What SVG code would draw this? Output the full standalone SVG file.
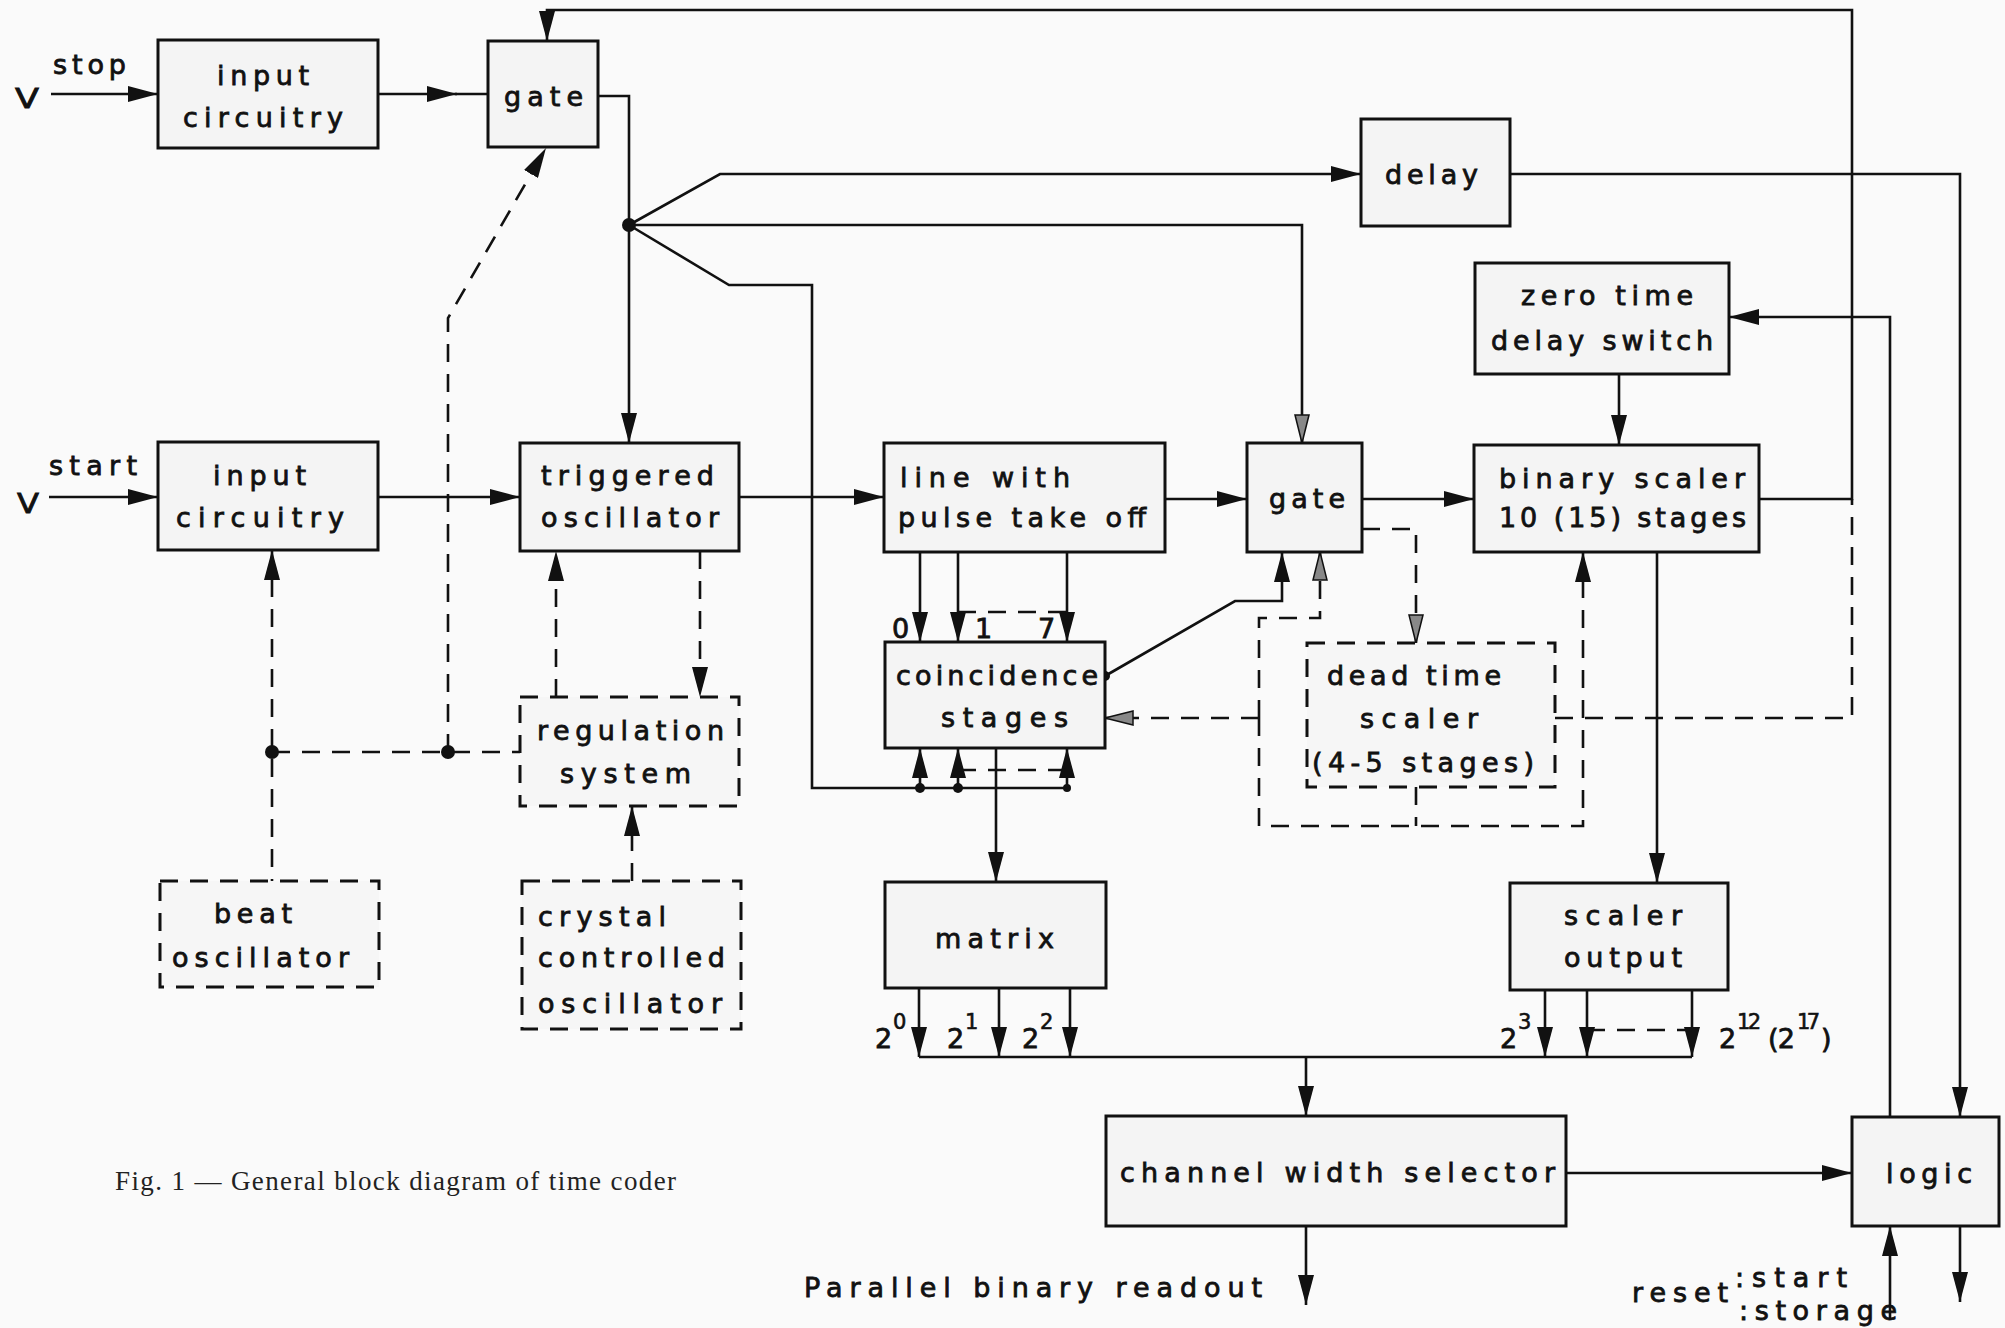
<svg xmlns="http://www.w3.org/2000/svg" width="2005" height="1328" viewBox="0 0 2005 1328">
<style>
.box{fill:#f4f4f4;stroke:#111;stroke-width:3}
.dbox{fill:#f6f6f6;stroke:#111;stroke-width:3;stroke-dasharray:18 12}
.ln{fill:none;stroke:#111;stroke-width:2.6}
.dl{fill:none;stroke:#111;stroke-width:2.6;stroke-dasharray:18 12}
.t{font-family:"DejaVu Sans","Liberation Sans",sans-serif;font-size:27px;fill:#111;stroke:#111;stroke-width:0.8}
.sup{font-family:"DejaVu Sans","Liberation Sans",sans-serif;font-size:21px;fill:#111;stroke:#111;stroke-width:0.6}
.cap{font-family:"Liberation Serif","Times New Roman",serif;font-size:27px;fill:#222}
</style>
<defs>
<marker id="a" markerUnits="userSpaceOnUse" markerWidth="30" markerHeight="16" refX="30" refY="8" orient="auto"><path d="M0,0 L30,8 L0,16 z" fill="#111"/></marker>
<marker id="h" markerUnits="userSpaceOnUse" markerWidth="30" markerHeight="16" refX="29" refY="8" orient="auto"><path d="M1,1 L29,8 L1,15 z" fill="#888" stroke="#111" stroke-width="1.5"/></marker>
</defs>
<rect x="0" y="0" width="2005" height="1328" fill="#fafafa"/>

<g id="connectors">
<path class="ln" d="M51,94 H158" marker-end="url(#a)"/>
<path class="ln" d="M378,94 H457" marker-end="url(#a)"/>
<path class="ln" d="M455,94 H488"/>
<path class="ln" d="M598,96 H629 V443" marker-end="url(#a)"/>
<path class="ln" d="M1759,499 H1852 V10 H547 V41" marker-end="url(#a)"/>
<path class="ln" d="M629,225 L720,174 H1361" marker-end="url(#a)"/>
<path class="ln" d="M629,225 H1302 V443" marker-end="url(#h)"/>
<path class="ln" d="M629,225 L729,285 H812 V788 H1067"/>
<path class="ln" d="M920,788 V748" marker-end="url(#a)"/>
<path class="ln" d="M958,788 V748" marker-end="url(#a)"/>
<path class="ln" d="M1067,788 V748" marker-end="url(#a)"/>
<path class="dl" d="M958,770 H1067"/>
<path class="ln" d="M49,497 H158" marker-end="url(#a)"/>
<path class="ln" d="M378,497 H520" marker-end="url(#a)"/>
<path class="ln" d="M739,497 H884" marker-end="url(#a)"/>
<path class="ln" d="M1165,499 H1247" marker-end="url(#a)"/>
<path class="ln" d="M1362,499 H1474" marker-end="url(#a)"/>
<path class="ln" d="M920,552 V642" marker-end="url(#a)"/>
<path class="ln" d="M958,552 V642" marker-end="url(#a)"/>
<path class="ln" d="M1067,552 V642" marker-end="url(#a)"/>
<path class="dl" d="M958,612 H1067"/>
<path class="ln" d="M996,748 V882" marker-end="url(#a)"/>
<path class="ln" d="M1105,676 L1235,601 H1282 V552" marker-end="url(#a)"/>
<path class="dl" d="M1259,718 V618 H1320 V552" marker-end="url(#h)"/>
<path class="dl" d="M1259,718 V826 H1583 V552" marker-end="url(#a)"/>
<path class="dl" d="M1416,787 V826"/>
<path class="dl" d="M1259,718 H1105" marker-end="url(#h)"/>
<path class="dl" d="M1362,529 H1416 V643" marker-end="url(#h)"/>
<path class="dl" d="M1555,718 H1852 V499"/>
<path class="ln" d="M1619,374 V445" marker-end="url(#a)"/>
<path class="ln" d="M1890,1117 V317 H1729" marker-end="url(#a)"/>
<path class="ln" d="M1510,174 H1960 V1117" marker-end="url(#a)"/>
<path class="ln" d="M1657,552 V883" marker-end="url(#a)"/>
<path class="ln" d="M919,988 V1057" marker-end="url(#a)"/>
<path class="ln" d="M999,988 V1057" marker-end="url(#a)"/>
<path class="ln" d="M1070,988 V1057" marker-end="url(#a)"/>
<path class="ln" d="M1545,990 V1057" marker-end="url(#a)"/>
<path class="ln" d="M1587,990 V1057" marker-end="url(#a)"/>
<path class="ln" d="M1692,990 V1057" marker-end="url(#a)"/>
<path class="dl" d="M1587,1030 H1692"/>
<path class="ln" d="M919,1057 H1692"/>
<path class="ln" d="M1306,1057 V1116" marker-end="url(#a)"/>
<path class="ln" d="M1566,1173 H1852" marker-end="url(#a)"/>
<path class="ln" d="M1306,1226 V1305" marker-end="url(#a)"/>
<path class="ln" d="M1890,1318 V1226" marker-end="url(#a)"/>
<path class="ln" d="M1960,1226 V1302" marker-end="url(#a)"/>
<path class="dl" d="M272,987 V550" marker-end="url(#a)"/>
<path class="dl" d="M272,752 H520"/>
<path class="dl" d="M448,752 V318 L546,148" marker-end="url(#a)"/>
<path class="dl" d="M556,697 V551" marker-end="url(#a)"/>
<path class="dl" d="M700,551 V697" marker-end="url(#a)"/>
<path class="dl" d="M632,881 V806" marker-end="url(#a)"/>
<g fill="#111">
<circle cx="629" cy="225" r="7"/>
<circle cx="1105" cy="676" r="5"/>
<circle cx="920" cy="788" r="5"/>
<circle cx="958" cy="788" r="5"/>
<circle cx="1067" cy="788" r="4"/>
<circle cx="272" cy="752" r="7"/>
<circle cx="448" cy="752" r="7"/>
</g>
</g>

<g id="labels">
<text class="t" x="15" y="108" textLength="24" lengthAdjust="spacingAndGlyphs" font-size="32" stroke-width="0.3">V</text>
<text class="t" x="53" y="74" textLength="73" lengthAdjust="spacing">stop</text>
<text class="t" x="17" y="513" textLength="22" lengthAdjust="spacingAndGlyphs" font-size="32" stroke-width="0.3">V</text>
<text class="t" x="49" y="475" textLength="88" lengthAdjust="spacing">start</text>
<text class="t" x="804" y="1297" textLength="458" lengthAdjust="spacing">Parallel binary readout</text>
<text class="t" x="1632" y="1302" textLength="96" lengthAdjust="spacing">reset</text>
<text class="t" x="1735" y="1287" textLength="112" lengthAdjust="spacing">:start</text>
<text class="t" x="1739" y="1320" textLength="158" lengthAdjust="spacing">:storage</text>
<text class="t" x="892" y="638">0</text>
<text class="t" x="975" y="638">1</text>
<text class="t" x="1038" y="638">7</text>
<text class="t" x="875" y="1048">2</text><text class="sup" x="893" y="1029">0</text>
<text class="t" x="947" y="1048">2</text><text class="sup" x="965" y="1029">1</text>
<text class="t" x="1022" y="1048">2</text><text class="sup" x="1040" y="1029">2</text>
<text class="t" x="1500" y="1048">2</text><text class="sup" x="1518" y="1029">3</text>
<text class="t" x="1719" y="1048">2</text><text class="sup" x="1737" y="1029" textLength="24" lengthAdjust="spacing">12</text>
<text class="t" x="1768" y="1048" textLength="27" lengthAdjust="spacing">(2</text><text class="sup" x="1797" y="1029" textLength="23" lengthAdjust="spacing">17</text><text class="t" x="1821" y="1048">)</text>
<text class="cap" x="115" y="1190" textLength="561" lengthAdjust="spacing">Fig. 1 — General block diagram of time coder</text>
</g>

<g id="input-stop"><rect class="box" x="158" y="40" width="220" height="108"/>
<text class="t" x="217" y="85" textLength="92" lengthAdjust="spacing">input</text>
<text class="t" x="183" y="127" textLength="160" lengthAdjust="spacing">circuitry</text></g>
<g id="gate-top"><rect class="box" x="488" y="41" width="110" height="106"/>
<text class="t" x="504" y="106" textLength="79" lengthAdjust="spacing">gate</text></g>
<g id="delay"><rect class="box" x="1361" y="119" width="149" height="107"/>
<text class="t" x="1385" y="184" textLength="93" lengthAdjust="spacing">delay</text></g>
<g id="zero-time"><rect class="box" x="1475" y="263" width="254" height="111"/>
<text class="t" x="1521" y="305" textLength="172" lengthAdjust="spacing">zero time</text>
<text class="t" x="1491" y="350" textLength="222" lengthAdjust="spacing">delay switch</text></g>
<g id="input-start"><rect class="box" x="158" y="442" width="220" height="108"/>
<text class="t" x="213" y="485" textLength="93" lengthAdjust="spacing">input</text>
<text class="t" x="176" y="527" textLength="168" lengthAdjust="spacing">circuitry</text></g>
<g id="triggered-osc"><rect class="box" x="520" y="443" width="219" height="108"/>
<text class="t" x="541" y="485" textLength="173" lengthAdjust="spacing">triggered</text>
<text class="t" x="541" y="527" textLength="178" lengthAdjust="spacing">oscillator</text></g>
<g id="line-with-pulse"><rect class="box" x="884" y="443" width="281" height="109"/>
<text class="t" x="900" y="487" textLength="170" lengthAdjust="spacing">line with</text>
<text class="t" x="898" y="527" textLength="248" lengthAdjust="spacing">pulse take off</text></g>
<g id="gate-mid"><rect class="box" x="1247" y="443" width="115" height="109"/>
<text class="t" x="1269" y="508" textLength="76" lengthAdjust="spacing">gate</text></g>
<g id="binary-scaler"><rect class="box" x="1474" y="445" width="285" height="107"/>
<text class="t" x="1499" y="488" textLength="246" lengthAdjust="spacing">binary scaler</text>
<text class="t" x="1499" y="527" textLength="247" lengthAdjust="spacing">10 (15) stages</text></g>
<g id="coincidence"><rect class="box" x="885" y="642" width="220" height="106"/>
<text class="t" x="896" y="685" textLength="202" lengthAdjust="spacing">coincidence</text>
<text class="t" x="941" y="727" textLength="127" lengthAdjust="spacing">stages</text></g>
<g id="dead-time"><rect class="dbox" x="1307" y="643" width="248" height="144"/>
<text class="t" x="1327" y="685" textLength="174" lengthAdjust="spacing">dead time</text>
<text class="t" x="1360" y="728" textLength="118" lengthAdjust="spacing">scaler</text>
<text class="t" x="1312" y="772" textLength="222" lengthAdjust="spacing">(4-5 stages)</text></g>
<g id="regulation"><rect class="dbox" x="520" y="697" width="219" height="109"/>
<text class="t" x="537" y="740" textLength="187" lengthAdjust="spacing">regulation</text>
<text class="t" x="560" y="783" textLength="131" lengthAdjust="spacing">system</text></g>
<g id="beat-osc"><rect class="dbox" x="160" y="881" width="219" height="106"/>
<text class="t" x="214" y="923" textLength="78" lengthAdjust="spacing">beat</text>
<text class="t" x="172" y="967" textLength="177" lengthAdjust="spacing">oscillator</text></g>
<g id="crystal-osc"><rect class="dbox" x="522" y="881" width="219" height="148"/>
<text class="t" x="538" y="926" textLength="128" lengthAdjust="spacing">crystal</text>
<text class="t" x="538" y="967" textLength="187" lengthAdjust="spacing">controlled</text>
<text class="t" x="538" y="1013" textLength="184" lengthAdjust="spacing">oscillator</text></g>
<g id="matrix"><rect class="box" x="885" y="882" width="221" height="106"/>
<text class="t" x="935" y="948" textLength="119" lengthAdjust="spacing">matrix</text></g>
<g id="scaler-output"><rect class="box" x="1510" y="883" width="218" height="107"/>
<text class="t" x="1564" y="925" textLength="118" lengthAdjust="spacing">scaler</text>
<text class="t" x="1564" y="967" textLength="118" lengthAdjust="spacing">output</text></g>
<g id="channel-width"><rect class="box" x="1106" y="1116" width="460" height="110"/>
<text class="t" x="1120" y="1182" textLength="435" lengthAdjust="spacing">channel width selector</text></g>
<g id="logic"><rect class="box" x="1852" y="1117" width="147" height="109"/>
<text class="t" x="1886" y="1183" textLength="86" lengthAdjust="spacing">logic</text></g>
</svg>
